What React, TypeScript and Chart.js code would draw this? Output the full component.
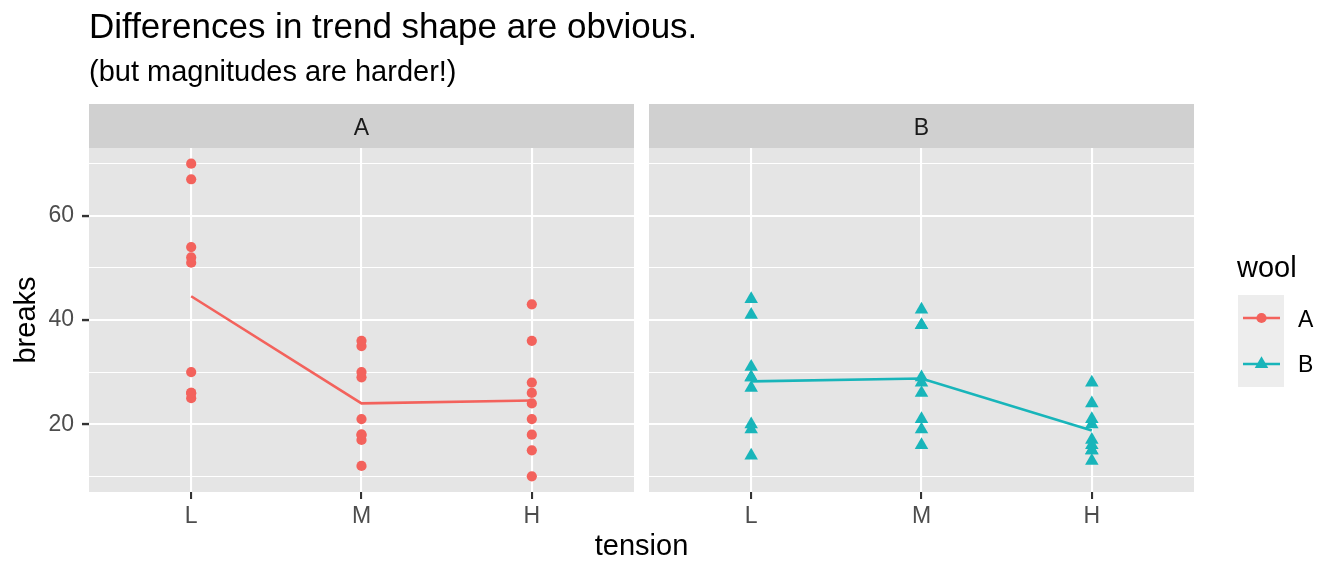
import React, { useEffect, useRef } from 'react';
import { Chart, registerables } from 'chart.js';

Chart.register(...registerables);

// ---------- data (warpbreaks) ----------
const tensions = ['L', 'M', 'H'];
const wools = ['A', 'B'];
const woolA_L = [26, 30, 54, 25, 70, 52, 51, 26, 67];
const woolA_M = [18, 21, 29, 17, 12, 18, 35, 30, 36];
const woolA_H = [36, 21, 24, 18, 10, 43, 28, 15, 26];
const woolB_L = [27, 14, 29, 19, 29, 31, 41, 20, 44];
const woolB_M = [42, 26, 19, 16, 39, 28, 21, 39, 29];
const woolB_H = [20, 21, 24, 17, 13, 15, 15, 16, 28];
const yGridTicks = [10, 20, 30, 40, 50, 60, 70];
const yLabelTicks = [20, 40, 60];

const title = 'Differences in trend shape are obvious.';
const subtitle = '(but magnitudes are harder!)';
const xTitle = 'tension';
const yTitle = 'breaks';
const legendTitle = 'wool';

const colorA = '#F3625C';
const colorB = '#18B5BA';
const FONT = '"Liberation Sans", Arial, Helvetica, sans-serif';

const seriesByWool: Record<string, number[][]> = {
  A: [woolA_L, woolA_M, woolA_H],
  B: [woolB_L, woolB_M, woolB_H],
};
const colorByWool: Record<string, string> = { A: colorA, B: colorB };
const shapeByWool: Record<string, string> = { A: 'circle', B: 'triangle' };
const radiusByWool: Record<string, number> = { A: 5.1, B: 7.8 };

const mean = (a: number[]) => a.reduce((s, v) => s + v, 0) / a.length;

// ---------- layout ----------
const W = 1344;
const H = 576;
const SPLIT = 641;
const STRIP_TOP = 104;
const PANEL_TOP = 148;
const PANEL_BOTTOM = 492;

function panelConfig(wool: string, first: boolean) {
  const vals = seriesByWool[wool];
  const color = colorByWool[wool];
  const points = tensions.flatMap((t, i) => vals[i].map((v) => ({ x: i + 1, y: v })));
  const means = tensions.map((t, i) => ({ x: i + 1, y: mean(vals[i]) }));

  const bgPlugin = {
    id: 'panelbg' + wool,
    beforeDraw(chart: any) {
      const { ctx, chartArea } = chart;
      ctx.save();
      ctx.fillStyle = '#E5E5E5';
      ctx.fillRect(chartArea.left, chartArea.top, chartArea.right - chartArea.left, chartArea.bottom - chartArea.top);
      ctx.fillStyle = '#D0D0D0';
      ctx.fillRect(chartArea.left, STRIP_TOP, chartArea.right - chartArea.left, PANEL_TOP - STRIP_TOP);
      ctx.restore();
    },
    afterDraw(chart: any) {
      if (first) return;
      const { ctx } = chart;
      const off = SPLIT;
      ctx.save();
      ctx.fillStyle = '#EDEDED';
      ctx.fillRect(1238 - off, 295, 46, 92);
      wools.forEach((w, i) => {
        const cy = 318 + i * 46;
        ctx.strokeStyle = colorByWool[w];
        ctx.lineWidth = 2.6;
        ctx.beginPath();
        ctx.moveTo(1243 - off, cy);
        ctx.lineTo(1280 - off, cy);
        ctx.stroke();
        ctx.fillStyle = colorByWool[w];
        const cx = 1261.5 - off;
        ctx.beginPath();
        if (shapeByWool[w] === 'circle') {
          ctx.arc(cx, cy, radiusByWool[w], 0, Math.PI * 2);
        } else {
          const r = radiusByWool[w];
          ctx.moveTo(cx, cy - r);
          ctx.lineTo(cx + r * Math.sin((2 * Math.PI) / 3), cy - r * Math.cos((2 * Math.PI) / 3));
          ctx.lineTo(cx + r * Math.sin((4 * Math.PI) / 3), cy - r * Math.cos((4 * Math.PI) / 3));
          ctx.closePath();
        }
        ctx.fill();
      });
      ctx.restore();
    },
  };

  return {
    type: 'scatter',
    data: {
      datasets: [
        {
          type: 'line',
          label: wool + ' mean',
          data: means,
          borderColor: color,
          borderWidth: 2.6,
          pointRadius: 0,
          fill: false,
          tension: 0,
        },
        {
          type: 'scatter',
          label: wool,
          data: points,
          backgroundColor: color,
          borderColor: color,
          pointStyle: shapeByWool[wool],
          pointRadius: radiusByWool[wool],
          pointBorderWidth: 0,
          borderWidth: 0,
        },
      ],
    },
    options: {
      animation: false,
      responsive: false,
      devicePixelRatio: 1,
      events: [],
      layout: { padding: { top: PANEL_TOP, left: first ? 0 : 8, right: first ? 7 : 150, bottom: 0 } },
      plugins: { legend: { display: false }, tooltip: { enabled: false }, title: { display: false } },
      scales: {
        x: {
          type: 'linear',
          min: 0.4,
          max: 3.6,
          afterBuildTicks: (s: any) => {
            s.ticks = tensions.map((t, i) => ({ value: i + 1 }));
          },
          ticks: {
            callback: (v: any) => tensions[Math.round(v) - 1] ?? '',
            color: '#4D4D4D',
            font: { family: FONT, size: 23 },
            padding: 4,
            maxRotation: 0,
            autoSkip: false,
          },
          grid: {
            color: '#FFFFFF',
            lineWidth: 2.1,
            tickColor: '#333333',
            tickWidth: 2.1,
            tickLength: 7,
          },
          border: { display: false },
          afterFit: (s: any) => {
            s.height = H - PANEL_BOTTOM;
          },
        },
        y: {
          type: 'linear',
          min: 7,
          max: 73,
          afterBuildTicks: (s: any) => {
            s.ticks = yGridTicks.map((v) => ({ value: v }));
          },
          ticks: {
            display: first,
            callback: (v: any) => (yLabelTicks.includes(v) ? String(v) : ''),
            color: '#4D4D4D',
            font: { family: FONT, size: 23 },
            padding: 8,
            autoSkip: false,
          },
          grid: {
            color: '#FFFFFF',
            lineWidth: (c: any) => (c.tick && yLabelTicks.includes(c.tick.value) ? 2.1 : 1.05),
            tickColor: (c: any) => (c.tick && yLabelTicks.includes(c.tick.value) ? '#333333' : 'rgba(0,0,0,0)'),
            tickWidth: 2.4,
            tickLength: 7,
            drawTicks: first,
          },
          border: { display: false },
          afterFit: (s: any) => {
            s.width = first ? 89 : 0;
          },
        },
      },
    },
    plugins: [bgPlugin],
  } as any;
}

function Txt(props: { x: number; base: number; size: number; color?: string; align?: 'left' | 'center'; children: string }) {
  const { x, base, size, color = '#000000', align = 'left', children } = props;
  return (
    <div
      style={{
        position: 'absolute',
        left: x,
        top: base - 0.8465 * size,
        fontSize: size,
        lineHeight: `${size}px`,
        fontFamily: FONT,
        color,
        whiteSpace: 'nowrap',
        transform: align === 'center' ? 'translateX(-50%)' : undefined,
      }}
    >
      {children}
    </div>
  );
}

export default function App() {
  const refA = useRef<HTMLCanvasElement>(null);
  const refB = useRef<HTMLCanvasElement>(null);

  useEffect(() => {
    const ca = new Chart(refA.current as HTMLCanvasElement, panelConfig('A', true));
    const cb = new Chart(refB.current as HTMLCanvasElement, panelConfig('B', false));
    return () => {
      ca.destroy();
      cb.destroy();
    };
  }, []);

  return (
    <div style={{ position: 'absolute', left: 0, top: 0, width: W, height: H, background: '#FFFFFF', overflow: 'hidden' }}>
      <canvas ref={refA} width={SPLIT} height={H} style={{ position: 'absolute', left: 0, top: 0, width: SPLIT, height: H }} />
      <canvas ref={refB} width={W - SPLIT} height={H} style={{ position: 'absolute', left: SPLIT, top: 0, width: W - SPLIT, height: H }} />
      <Txt x={89} base={38} size={35}>{title}</Txt>
      <Txt x={89} base={82} size={29}>{subtitle}</Txt>
      <Txt x={361.5} base={135} size={23} color="#1A1A1A" align="center">{wools[0]}</Txt>
      <Txt x={921.5} base={135} size={23} color="#1A1A1A" align="center">{wools[1]}</Txt>
      <Txt x={641.5} base={556} size={29} align="center">{xTitle}</Txt>
      <div style={{ position: 'absolute', left: 36, top: 320, width: 0, height: 0, transform: 'rotate(-90deg)', transformOrigin: '0 0' }}>
        <div
          style={{
            position: 'absolute',
            left: 0,
            top: -0.8465 * 29,
            fontSize: 29,
            lineHeight: '29px',
            fontFamily: FONT,
            color: '#000000',
            whiteSpace: 'nowrap',
            transform: 'translateX(-50%)',
          }}
        >
          {yTitle}
        </div>
      </div>
      <Txt x={1237} base={278} size={29}>{legendTitle}</Txt>
      <Txt x={1298} base={327} size={23}>{wools[0]}</Txt>
      <Txt x={1298} base={372} size={23}>{wools[1]}</Txt>
    </div>
  );
}
